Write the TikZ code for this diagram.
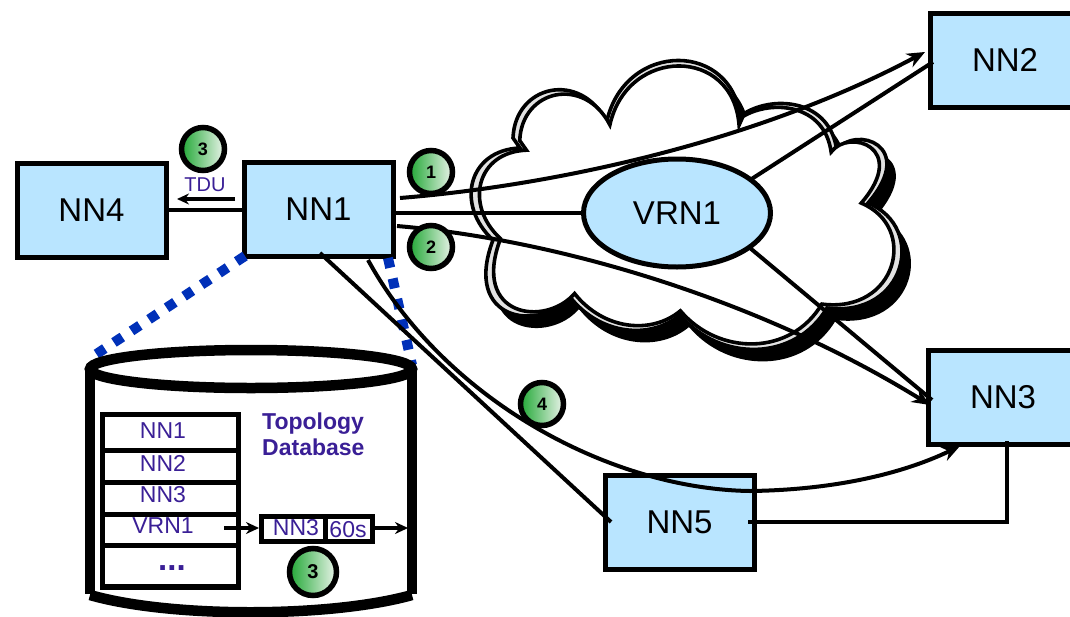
\documentclass[tikz,border=0pt]{standalone}
\usepackage{fontspec}
\setmainfont{Liberation Sans}
\usetikzlibrary{arrows.meta,shapes.geometric}
\definecolor{nodeblue}{HTML}{B9E5FF}
\definecolor{dashblue}{HTML}{0030B8}
\definecolor{dbtext}{HTML}{3A1F96}
\definecolor{bandgray}{HTML}{E2E2E2}
\definecolor{badgeL}{HTML}{22A836}
\definecolor{badgeR}{HTML}{EAF4EA}
\newcommand{\fsz}[1]{\fontsize{#1}{#1}\selectfont}
\newcommand{\cloudshape}{(606.7,121.7) .. controls (625,40) and (735,40) .. (741,122)
 -- (745,113) .. controls (775,95) and (830,100) .. (836.7,150)
 .. controls (855,125) and (918,145) .. (868,203)
 .. controls (928,228) and (905,318) .. (827,308)
 .. controls (795,362) and (720,362) .. (680,315)
 .. controls (650,340) and (600,335) .. (570,297)
 .. controls (540,332) and (462,322) .. (493,240)
 .. controls (455,205) and (468,150) .. (520,148)
 -- (513,138) .. controls (515,85) and (580,70) .. (606.7,121.7) -- cycle}
\tikzset{
  x=1pt,y=-1pt,
  nnbox/.style={draw=black,fill=nodeblue,line width=5pt,outer sep=0pt,minimum width=149pt,minimum height=94pt,font=\fsz{33},inner sep=0pt},
  vrn/.style={ellipse,draw=black,fill=nodeblue,line width=5pt,outer sep=0pt,minimum width=187pt,minimum height=108pt,font=\fsz{33},inner sep=0pt},
  badge/.style={circle,draw=black,line width=5.5pt,left color=badgeL,right color=badgeR,outer sep=0pt,minimum size=43pt,inner sep=0pt,font=\fsz{18}\bfseries},
  conn/.style={draw=black,line width=4pt},
  tip/.style={-{Stealth[length=18pt,width=15pt]}},
  dotted blue/.style={draw=dashblue,line width=10pt,dash pattern=on 10pt off 11pt},
  cloudline/.style={draw=black,line width=3.6pt,line join=miter},
  dbline/.style={draw=black,line width=10.5pt},
  rowtext/.style={text=dbtext,font=\fsz{23},inner sep=0pt},
  tablebox/.style={draw=black,line width=5.5pt},
  minitip/.style={draw=black,line width=4pt,-{Stealth[length=13pt,width=12pt]}}
}
\begin{document}
\begin{tikzpicture}
\clip (0,0) rectangle (1070,616);
% cloud
\fill[black,shift={(9,12)}] \cloudshape;
\path[cloudline,fill=bandgray] \cloudshape;
\begin{scope}[shift={(690,205)},scale=.962,shift={(-690,-205)}]
\path[cloudline,fill=white] \cloudshape;
\end{scope}
% nodes
\node[vrn] (VRN1) at (677,213) {VRN1};
\node[nnbox] (NN4) at (91.5,210) {NN4};
\node[nnbox] (NN1) at (318.5,209) {NN1};
\node[nnbox] (NN2) at (1005,60) {NN2};
\node[nnbox] (NN3) at (1003,397.5) {NN3};
\node[nnbox] (NN5) at (679.5,522.5) {NN5};
% free connector ends
\coordinate (e1) at (400,198);
\coordinate (e2) at (397,226);
\coordinate (e3) at (368,260);
\coordinate (n2a) at (925,52);
\coordinate (n2b) at (933,62);
\coordinate (n3a) at (930,405);
\coordinate (n3b) at (932,400);
\coordinate (n3c) at (960,446);
\coordinate (n3d) at (1007,441);
\coordinate (n5a) at (611,522);
\coordinate (v1) at (750,180);
\coordinate (v2) at (750,248);
\coordinate (n1b) at (320,253);
\coordinate (bend) at (750,491);
\coordinate (n5e) at (748,522);
\coordinate (corner) at (1007,522);
\coordinate (dbTL) at (95,355);
\coordinate (dbTR) at (412,365);
\coordinate (dA) at (245,256);
\coordinate (dB) at (388,258);
% dashed zoom lines
\draw[dotted blue] (dA) -- (dbTL);
\draw[dotted blue] (dB) -- (dbTR);
% database cylinder
\fill[white] (90,369) -- (90,595) .. controls (170,618) and (330,618) .. (412,595) -- (412,369) -- cycle;
\draw[dbline] (90,369) -- (90,594);
\draw[dbline] (412,369) -- (412,594);
\draw[dbline,fill=white] (251,369) ellipse [x radius=161,y radius=19];
\draw[dbline] (90,595) .. controls (170,618) and (330,618) .. (412,595);
% table
\node[rowtext] (r1) at (163,431) {NN1};
\node[rowtext] (r2) at (163,463) {NN2};
\node[rowtext] (r3) at (163,495) {NN3};
\node[rowtext] (r4) at (163,526) {VRN1};
\node[rowtext,font=\fsz{33}\bfseries] (r5) at (172,568) {...};
\draw[tablebox] (102.5,414.5) rectangle (238.5,587);
\draw[line width=5pt] (102.5,450) -- (238.5,450);
\draw[line width=5pt] (102.5,482) -- (238.5,482);
\draw[line width=5pt] (102.5,514) -- (238.5,514);
\draw[line width=5pt] (102.5,545) -- (238.5,545);
\node[text=dbtext,font=\fsz{23}\bfseries,align=left,inner sep=0pt,anchor=west] (topo) at (262,434.5) {Topology\\[3pt]Database};
% record box
\draw[line width=5pt] (261,516) rectangle (372,541);
\draw[line width=5pt] (325,516) -- (325,541);
\node[rowtext] (rec1) at (296,528) {NN3};
\node[rowtext,font=\fsz{23}] (rec2) at (348,530) {60s};
\coordinate (a1) at (224,528);
\coordinate (a2) at (259,528);
\coordinate (a3) at (374,528);
\coordinate (a4) at (408,528);
\draw[minitip] (a1) -- (a2);
\draw[minitip] (a3) -- (a4);
% connectors
\draw[conn] (NN4.east) -- (NN1.west |- NN4.east);
\coordinate (t1) at (235,199);
\coordinate (t2) at (177,199);
\draw[line width=3.6pt,-{Stealth[length=12pt,width=11pt]}] (t1) -- (t2);
\node[text=dbtext,font=\fsz{20},inner sep=0pt] (tdu) at (205,185) {TDU};
\draw[conn] (NN1.east |- VRN1.west) -- (VRN1.west);
\draw[conn,tip] (e1) .. controls (560,185) and (760,140) .. (n2a);
\draw[conn] (v1) -- (n2b);
\draw[conn,tip] (e2) .. controls (560,240) and (760,300) .. (n3a);
\draw[conn] (v2) -- (n3b);
\draw[conn] (n1b) -- (n5a);
\draw[conn,tip] (e3) .. controls (445,400) and (610,489) .. (bend) .. controls (830,490) and (900,475) .. (n3c);
\draw[conn,line join=miter] (n5e) -- (corner) -- (n3d);
% badges
\node[badge] (b3a) at (203,149) {3};
\node[badge] (b1) at (431,172) {1};
\node[badge] (b2) at (431,247) {2};
\node[badge] (b4) at (542,404) {4};
\node[badge,minimum size=47pt,font=\fsz{20}\bfseries] (b3b) at (313,572) {3};
\end{tikzpicture}
\end{document}
